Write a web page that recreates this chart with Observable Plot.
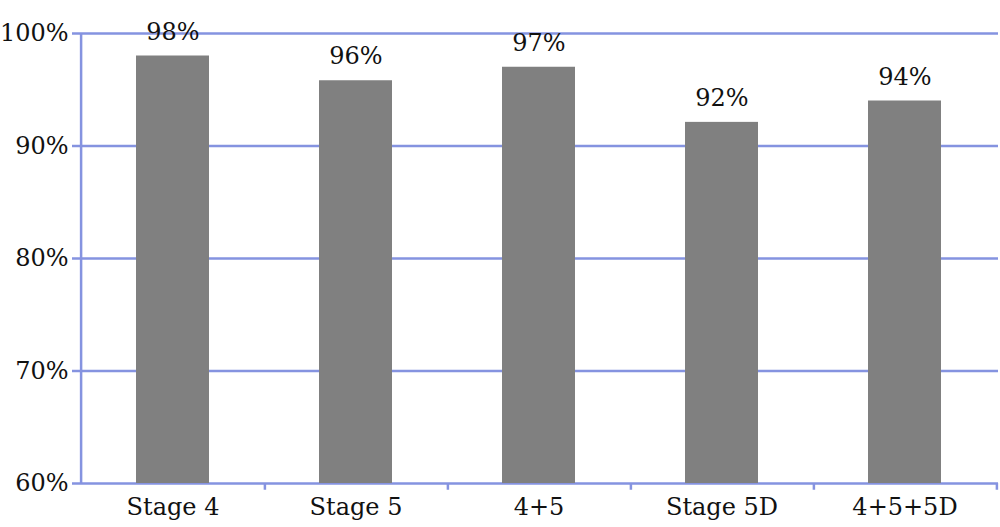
<!DOCTYPE html>
<html>
<head>
<meta charset="utf-8">
<script src="https://cdn.jsdelivr.net/npm/d3@7"></script>
<script src="https://cdn.jsdelivr.net/npm/@observablehq/plot@0.6"></script>
<style>
  html, body { margin: 0; padding: 0; background: #fff; }
  svg { font-family: "DejaVu Serif", serif; }
</style>
</head>
<body>
<div id="chart"></div>
<script>
const categories = ["Stage 4", "Stage 5", "4+5", "Stage 5D", "4+5+5D"];
const values = [98, 95.8, 97, 92.1, 94];
const valueLabels = ["98%", "96%", "97%", "92%", "94%"];
const yTicks = [60, 70, 80, 90, 100];

const data = categories.map((c, i) => ({ cat: c, value: values[i], label: valueLabels[i] }));
const blue = "#8593e0";
const width = 1000, height = 527;
const mL = 79, mR = 2;
const step = (width - mL - mR) / categories.length;

const chart = Plot.plot({
  width, height,
  marginLeft: mL, marginRight: mR, marginTop: 33, marginBottom: 44,
  style: { fontFamily: "DejaVu Serif, serif", fontSize: "24px", background: "#fff", color: "#000" },
  x: { domain: categories, paddingInner: 0.6, paddingOuter: 0.3, label: null },
  y: { domain: [60, 100], label: null },
  marks: [
    Plot.ruleY(yTicks, { stroke: blue, strokeWidth: 2.5 }),
    Plot.barY(data, { x: "cat", y1: 60, y2: "value", fill: "#808080" }),
    Plot.ruleX([60], { x: () => categories[0], y1: 60, y2: 100, dx: -step / 2, stroke: blue, strokeWidth: 2.5 }),
    Plot.ruleX(categories, { x: d => d, y1: 60, y2: 59.4, dx: step / 2, stroke: blue, strokeWidth: 2.5, clip: false }),
    Plot.text(data, { x: "cat", y: "value", text: "label", dy: -24, fill: "#111", fontSize: 24 }),
    Plot.axisY(yTicks, { tickSize: 7, tickPadding: 4, stroke: blue, strokeWidth: 2.5, fill: "#111", tickFormat: d => d + "%", fontSize: 24, label: null }),
    Plot.axisX({ tickSize: 0, tickPadding: 14, fill: "#111", fontSize: 24, label: null })
  ]
});
document.getElementById("chart").appendChild(chart);
</script>
</body>
</html>
